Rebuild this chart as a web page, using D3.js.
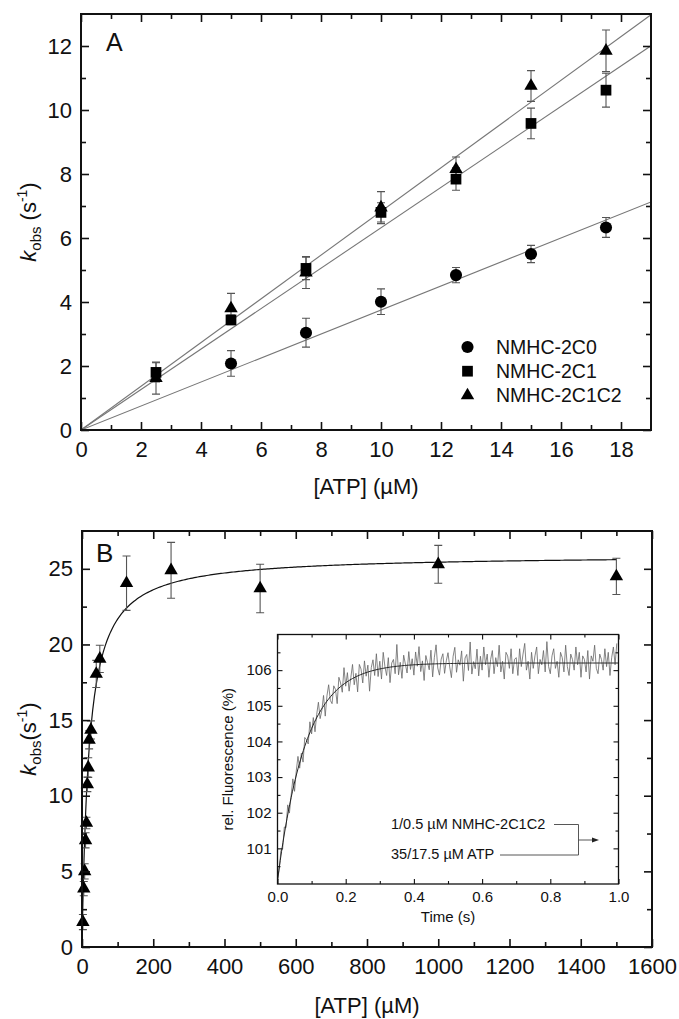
<!doctype html>
<html lang="en">
<head>
<meta charset="utf-8">
<title>kobs vs ATP</title>
<script src="https://cdnjs.cloudflare.com/ajax/libs/d3/7.8.5/d3.min.js"></script>
<style>
  body { margin: 0; background: #fff; }
  svg { font-family: "Liberation Sans", Arial, sans-serif; }
  .ax text { fill: #111; }
</style>
</head>
<body>
<div id="chart"></div>
<script>
// ---- panel A data: kobs (s-1) vs [ATP] (uM)
var concA = [2.5, 5, 7.5, 10, 12.5, 15, 17.5];
var conc2C0 = [5, 7.5, 10, 12.5, 15, 17.5];
var k2C0 = [2.08, 3.04, 4.01, 4.84, 5.5, 6.33];
var err2C0 = [0.4, 0.45, 0.4, 0.24, 0.27, 0.31];
var k2C1 = [1.80, 3.44, 5.05, 6.8, 7.84, 9.58, 10.62];
var err2C1 = [0.3, 0.15, 0.35, 0.3, 0.35, 0.48, 0.53];
var k2C1C2 = [1.62, 3.8, 4.92, 6.95, 8.15, 10.75, 11.85];
var err2C1C2 = [0.5, 0.47, 0.5, 0.5, 0.38, 0.48, 0.65];
var slopesA = [0.375, 0.632, 0.683];   // linear fits through origin
var legendA = ["NMHC-2C0", "NMHC-2C1", "NMHC-2C1C2"];

// ---- panel B data
var concB = [2.5, 5, 7.5, 10, 12.5, 15, 17.5, 20, 25, 40, 50, 125, 250, 500, 1000, 1500];
var kB = [1.65, 3.86, 5.0, 7.05, 8.2, 10.75, 11.86, 13.7, 14.35, 18.05, 19.05, 24.05, 24.9, 23.7, 25.3, 24.5];
var errB = [0.5, 0.47, 0.5, 0.5, 0.38, 0.48, 0.65, 0.6, 0.6, 0.9, 0.9, 1.8, 1.85, 1.6, 1.25, 1.2];
var kmaxB = 25.94, kdB = 19.7;        // hyperbolic fit

// ---- inset: fluorescence transient, one value every 5 ms (0 - 0.995 s)
var traceStep = 0.005;
var trace = [
  100.10,100.41,100.94,100.98,101.60,101.58,102.22,101.99,102.48,102.95,102.60,103.17,103.58,103.25,103.67,103.42,104.11,104.05,103.93,104.55,
  104.21,104.67,104.27,104.76,105.10,104.64,104.87,105.29,104.71,105.28,105.59,105.15,105.06,105.56,105.46,105.06,105.80,105.64,105.38,106.07,
  105.55,105.93,105.41,105.79,106.16,105.59,105.91,105.39,106.16,106.03,105.64,106.26,105.83,106.14,105.41,106.07,106.29,105.85,106.46,105.82,
  106.25,105.75,106.50,106.10,105.85,106.35,105.65,106.20,106.30,105.90,106.72,105.87,106.22,105.77,106.42,106.17,105.92,106.52,106.02,106.32,
  105.86,106.51,106.11,106.66,105.96,106.26,105.71,106.41,106.21,106.01,106.56,105.81,106.36,106.71,106.06,105.86,106.31,106.46,105.91,106.26,
  106.49,106.09,105.79,106.39,106.64,105.94,106.29,106.14,106.54,105.69,106.34,106.44,105.99,106.79,105.89,106.24,106.04,106.59,105.84,106.39,
  106.00,106.65,106.15,106.45,105.80,106.30,106.55,105.90,106.35,106.10,106.70,105.95,106.25,105.75,106.50,106.40,106.05,106.60,105.90,106.30,
  106.35,105.85,106.60,106.10,106.45,106.75,106.00,106.25,105.75,106.50,106.05,106.40,106.65,105.90,106.30,106.15,106.55,105.95,106.80,106.10,
  105.90,106.40,106.60,106.05,106.25,105.80,106.50,106.35,105.95,106.70,106.10,105.85,106.45,106.30,106.00,106.65,106.15,106.50,105.80,106.40,
  106.30,105.95,106.55,105.75,106.40,106.25,106.70,106.05,105.90,106.45,106.30,106.00,106.60,106.10,106.50,105.85,106.35,106.65,106.15,106.75
];
var fitF0 = 100.1, fitAmp = 6.1, fitRate = 12;   // single exponential

var W = 679, H = 1019;
var svg = d3.select("#chart").append("svg").attr("width", W).attr("height", H);

var ticksFont = 22;

// draws a boxed frame with inward ticks on all four sides
function boxAxes(g, x, y, o) {
    var w = x.range()[1] - x.range()[0], h = y.range()[0] - y.range()[1];
    var sets = [
        [d3.axisBottom(x), "translate(0," + h + ")", o.xMajor, o.xMinor, o.fx, o.padX],
        [d3.axisTop(x), null, o.xMajor, o.xMinor, null, 0],
        [d3.axisLeft(y), null, o.yMajor, o.yMinor, o.fy, o.padY],
        [d3.axisRight(y), "translate(" + w + ",0)", o.yMajor, o.yMinor, null, 0]
    ];
    sets.forEach(function (s) {
        var maj = s[0].tickValues(s[2]).tickSize(-o.major).tickSizeOuter(0)
            .tickPadding(s[5]).tickFormat(s[4] ? s[4] : function () { return ""; });
        var a = g.append("g").attr("class", "ax").call(maj);
        if (s[1]) a.attr("transform", s[1]);
        a.select(".domain").remove();
        a.selectAll("line").attr("stroke", "#111").attr("stroke-width", o.sw);
        a.selectAll("text").attr("font-size", o.font).attr("font-family", null);
        var mn = s[0].tickValues(s[3]).tickSize(-o.minor).tickFormat("");
        var b = g.append("g").attr("class", "ax").call(mn);
        if (s[1]) b.attr("transform", s[1]);
        b.select(".domain").remove();
        b.selectAll("line").attr("stroke", "#111").attr("stroke-width", o.sw);
    });
    g.append("rect").attr("width", w).attr("height", h)
        .attr("fill", "none").attr("stroke", "#111").attr("stroke-width", o.frame);
}

function kLabel(cx, cy, spaced) {
    var t = svg.append("text")
        .attr("transform", "translate(" + cx + "," + cy + ") rotate(-90)")
        .attr("text-anchor", "middle").attr("font-size", 22).attr("fill", "#111");
    t.append("tspan").attr("font-style", "italic").text("k");
    t.append("tspan").attr("font-size", 15).attr("dy", 5).text("obs");
    t.append("tspan").attr("dy", -5).text(spaced ? " (s" : "(s");
    t.append("tspan").attr("font-size", 14).attr("dy", -9).text("-1");
    t.append("tspan").attr("dy", 9).text(")");
}

function errBars(g, xs, ys, es, x, y) {
    var cap = 4;
    xs.forEach(function (d, i) {
        var px = x(d), t = y(ys[i] + es[i]), b = y(ys[i] - es[i]);
        g.append("path")
            .attr("d", "M" + px + "," + t + "V" + b + "M" + (px - cap) + "," + t + "H" + (px + cap) +
                "M" + (px - cap) + "," + b + "H" + (px + cap))
            .attr("stroke", "#555").attr("stroke-width", 1.1).attr("fill", "none");
    });
}

var symCircle = d3.symbol().type(d3.symbolCircle).size(115)();
var symSquare = d3.symbol().type(d3.symbolSquare).size(115)();
var symTri = d3.symbol().type(d3.symbolTriangle).size(78)();
var shapes = [symCircle, symSquare, symTri];

// ================= Panel A =================
var mA = { left: 81, top: 14, w: 570, h: 416 };
var xA = d3.scaleLinear().domain([0, 19]).range([0, mA.w]);
var yA = d3.scaleLinear().domain([0, 13]).range([mA.h, 0]);
var gA = svg.append("g").attr("transform", "translate(" + mA.left + "," + mA.top + ")");

svg.append("clipPath").attr("id", "clipA").append("rect").attr("width", mA.w).attr("height", mA.h);

slopesA.forEach(function (s) {
    gA.append("line").attr("clip-path", "url(#clipA)")
        .attr("x1", xA(0)).attr("y1", yA(0)).attr("x2", xA(19)).attr("y2", yA(s * 19))
        .attr("stroke", "#777").attr("stroke-width", 1.1);
});

errBars(gA, conc2C0, k2C0, err2C0, xA, yA);
errBars(gA, concA, k2C1, err2C1, xA, yA);
errBars(gA, concA, k2C1C2, err2C1C2, xA, yA);

[[conc2C0, k2C0], [concA, k2C1], [concA, k2C1C2]].forEach(function (ser, si) {
    gA.selectAll(null).data(ser[0]).enter().append("path")
        .attr("d", shapes[si])
        .attr("transform", function (d, i) { return "translate(" + xA(d) + "," + yA(ser[1][i]) + ")"; })
        .attr("fill", "#000");
});

boxAxes(gA, xA, yA, {
    xMajor: d3.range(0, 19, 2), xMinor: d3.range(1, 19, 2),
    yMajor: d3.range(0, 13, 2), yMinor: d3.range(1, 13, 2),
    fx: d3.format("d"), fy: d3.format("d"), padX: 11, padY: 9,
    major: 8, minor: 5, sw: 1.6, frame: 2, font: ticksFont
});

// legend
legendA.forEach(function (name, i) {
    var cy = 347 - mA.top + i * 24.2;
    gA.append("path").attr("d", shapes[i]).attr("fill", "#000")
        .attr("transform", "translate(" + (467.5 - mA.left) + "," + cy + ")");
    gA.append("text").attr("x", 496 - mA.left).attr("y", cy + 7)
        .attr("font-size", 19.5).attr("fill", "#111").text(name);
});

gA.append("text").attr("x", 25).attr("y", 37).attr("font-size", 25).attr("fill", "#111").text("A");

svg.append("text").attr("x", mA.left + mA.w / 2).attr("y", 494).attr("text-anchor", "middle")
    .attr("font-size", 22).attr("fill", "#111").text("[ATP] (\u00b5M)");
kLabel(36, mA.top + mA.h / 2, true);

// ================= Panel B =================
var mB = { left: 82, top: 531, w: 570, h: 416 };
var xB = d3.scaleLinear().domain([0, 1600]).range([0, mB.w]);
var yB = d3.scaleLinear().domain([0, 27.5]).range([mB.h, 0]);
var gB = svg.append("g").attr("transform", "translate(" + mB.left + "," + mB.top + ")");

var fitX = d3.range(0, 20, 0.25).concat(d3.range(20, 1501, 5));
gB.append("path")
    .datum(fitX)
    .attr("d", d3.line().x(function (d) { return xB(d); })
        .y(function (d) { return yB(kmaxB * d / (kdB + d)); }))
    .attr("fill", "none").attr("stroke", "#111").attr("stroke-width", 1.2);

errBars(gB, concB, kB, errB, xB, yB);
gB.selectAll(null).data(concB).enter().append("path")
    .attr("d", symTri)
    .attr("transform", function (d, i) { return "translate(" + xB(d) + "," + yB(kB[i]) + ")"; })
    .attr("fill", "#000");

boxAxes(gB, xB, yB, {
    xMajor: d3.range(0, 1601, 200), xMinor: d3.range(100, 1600, 200),
    yMajor: d3.range(0, 26, 5), yMinor: d3.range(2.5, 27.5, 5),
    fx: d3.format("d"), fy: d3.format("d"), padX: 11, padY: 9,
    major: 8, minor: 5, sw: 1.6, frame: 2, font: ticksFont
});

gB.append("text").attr("x", 14).attr("y", 31).attr("font-size", 26).attr("fill", "#111").text("B");

svg.append("text").attr("x", mB.left + mB.w / 2).attr("y", 1013).attr("text-anchor", "middle")
    .attr("font-size", 22).attr("fill", "#111").text("[ATP] (\u00b5M)");
kLabel(36, mB.top + mB.h / 2, false);

// ================= Inset =================
var mI = { left: 277.5, top: 634.5, w: 341, h: 249.5 };
var xI = d3.scaleLinear().domain([0, 1]).range([0, mI.w]);
var yI = d3.scaleLinear().domain([100, 107]).range([mI.h, 0]);
var gI = svg.append("g").attr("transform", "translate(" + mI.left + "," + mI.top + ")");
gI.append("rect").attr("width", mI.w).attr("height", mI.h).attr("fill", "#fff");

svg.append("clipPath").attr("id", "clipI").append("rect").attr("width", mI.w).attr("height", mI.h);

gI.append("path").datum(trace).attr("clip-path", "url(#clipI)")
    .attr("d", d3.line().x(function (d, i) { return xI(i * traceStep); }).y(function (d) { return yI(d); }))
    .attr("fill", "none").attr("stroke", "#666").attr("stroke-width", 0.8);

gI.append("path").datum(d3.range(0, 1.0001, 0.004))
    .attr("d", d3.line().x(function (t) { return xI(t); })
        .y(function (t) { return yI(fitF0 + fitAmp * (1 - Math.exp(-fitRate * t))); }))
    .attr("fill", "none").attr("stroke", "#222").attr("stroke-width", 1);

boxAxes(gI, xI, yI, {
    xMajor: d3.range(0, 1.01, 0.2), xMinor: d3.range(0.1, 1, 0.2),
    yMajor: [101, 102, 103, 104, 105, 106], yMinor: [100.5, 101.5, 102.5, 103.5, 104.5, 105.5, 106.5],
    fx: d3.format(".1f"), fy: d3.format("d"), padX: 7, padY: 6,
    major: 5, minor: 3, sw: 1.1, frame: 1.3, font: 15
});

svg.append("text").attr("x", 448).attr("y", 922).attr("text-anchor", "middle")
    .attr("font-size", 15).attr("fill", "#111").text("Time (s)");
svg.append("text").attr("transform", "translate(233," + (mI.top + mI.h / 2) + ") rotate(-90)")
    .attr("text-anchor", "middle").attr("font-size", 15).attr("fill", "#111").text("rel. Fluorescence (%)");

// mixing annotation
svg.append("text").attr("x", 391).attr("y", 829).attr("font-size", 14.5).attr("fill", "#111")
    .text("1/0.5 \u00b5M NMHC-2C1C2");
svg.append("text").attr("x", 391).attr("y", 859).attr("font-size", 14.5).attr("fill", "#111")
    .text("35/17.5 \u00b5M ATP");
svg.append("path").attr("d", "M554,824.5H578.5V855H500M578.5,840H594")
    .attr("fill", "none").attr("stroke", "#444").attr("stroke-width", 0.9);
svg.append("path").attr("d", "M599,840L592,837.5L592,842.5Z").attr("fill", "#222");
</script>
</body>
</html>
